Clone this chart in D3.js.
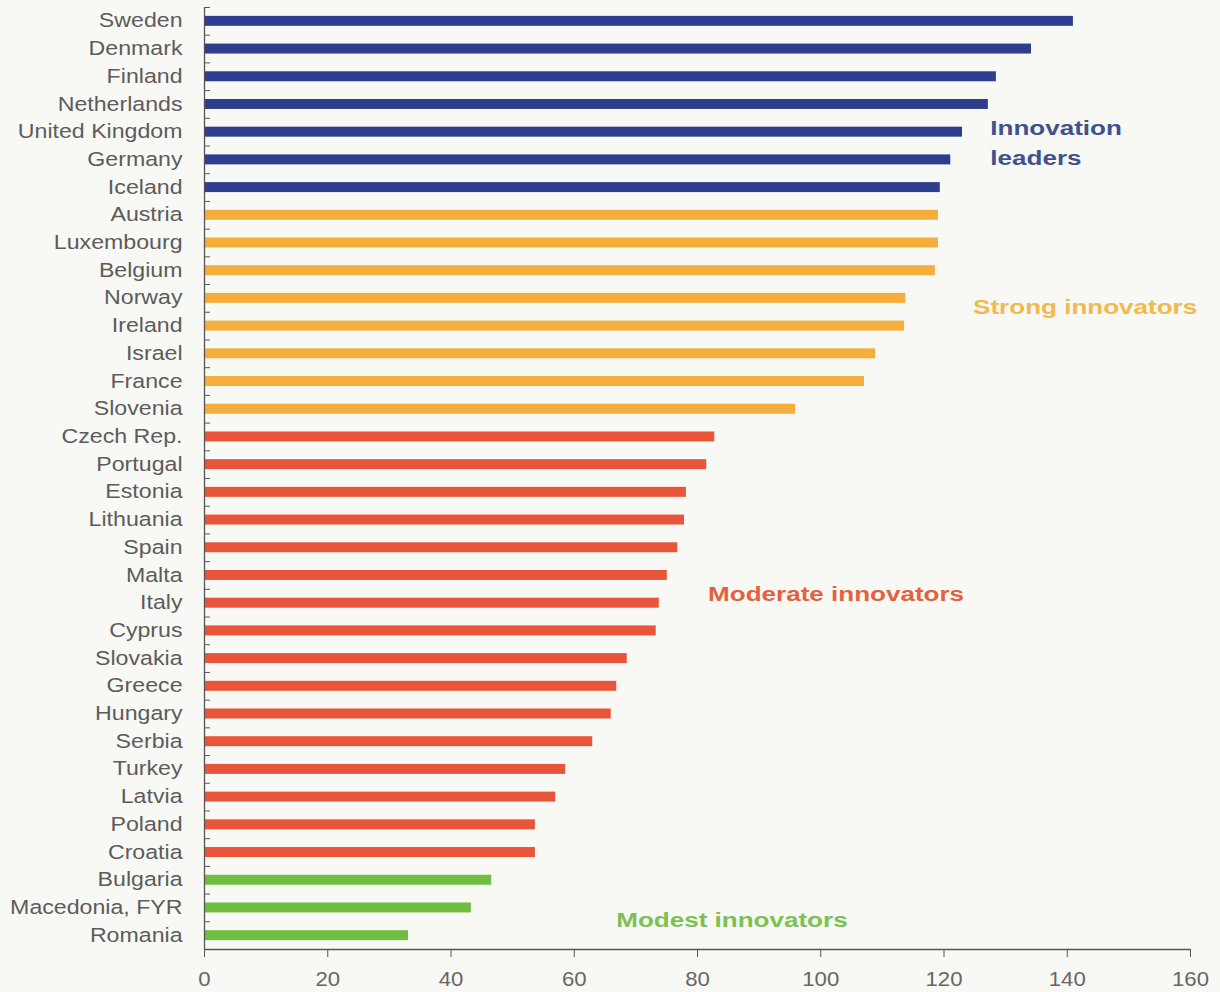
<!DOCTYPE html>
<html>
<head>
<meta charset="utf-8">
<script src="https://cdn.jsdelivr.net/npm/d3@7"></script>
<style>
  html, body { margin: 0; padding: 0; background: #f8f8f5; }
  svg { display: block; }
</style>
</head>
<body>
<svg id="chart" width="1220" height="992"></svg>
<script>
const countries = [
  "Sweden", "Denmark", "Finland", "Netherlands", "United Kingdom", "Germany", "Iceland",
  "Austria", "Luxembourg", "Belgium", "Norway", "Ireland", "Israel", "France", "Slovenia",
  "Czech Rep.", "Portugal", "Estonia", "Lithuania", "Spain", "Malta", "Italy", "Cyprus",
  "Slovakia", "Greece", "Hungary", "Serbia", "Turkey", "Latvia", "Poland", "Croatia",
  "Bulgaria", "Macedonia, FYR", "Romania"
];
const scores = [
  141.0, 134.2, 128.5, 127.2, 123.0, 121.1, 119.4,
  119.1, 119.1, 118.6, 113.8, 113.6, 108.9, 107.1, 95.9,
  82.8, 81.5, 78.2, 77.9, 76.8, 75.1, 73.8, 73.3,
  68.6, 66.9, 66.0, 63.0, 58.6, 57.0, 53.7, 53.7,
  46.6, 43.3, 33.1
];
const groupOf = [
  0, 0, 0, 0, 0, 0, 0,
  1, 1, 1, 1, 1, 1, 1, 1,
  2, 2, 2, 2, 2, 2, 2, 2,
  2, 2, 2, 2, 2, 2, 2, 2,
  3, 3, 3
];
const groupNames = [["Innovation", "leaders"], ["Strong innovators"], ["Moderate innovators"], ["Modest innovators"]];
const barColors = ["#2f3d8e", "#f5ad3b", "#e9553a", "#6fbe42"];
const labelColors = ["#41508f", "#f2b94f", "#e2623e", "#7dc153"];
// where each group name sits: value on x axis, country row it hangs from
const labelAt = [
  { x: 127.6, row: "United Kingdom", dy: 3 },
  { x: 124.8, row: "Ireland", dy: -12 },
  { x: 81.8, row: "Italy", dy: -2 },
  { x: 66.9, row: "Macedonia, FYR", dy: 20 }
];
const xTicks = [0, 20, 40, 60, 80, 100, 120, 140, 160];

const textColor = "#5c5c5c";
const axisColor = "#555";

const svg = d3.select("#chart");
const plotLeft = 204, plotRight = 1190, plotTop = 7, plotBottom = 949;

const x = d3.scaleLinear().domain([0, 160]).range([plotLeft, plotRight]);
const y = d3.scaleBand()
  .domain(countries)
  .range([plotTop, plotBottom])
  .paddingInner(0.64)
  .paddingOuter(0.32);

// bars
svg.append("g")
  .selectAll("rect")
  .data(countries)
  .enter()
  .append("rect")
  .attr("x", x(0))
  .attr("y", d => y(d))
  .attr("width", (d, i) => x(scores[i]) - x(0))
  .attr("height", y.bandwidth())
  .attr("fill", (d, i) => barColors[groupOf[i]]);

// y axis: line with small ticks between rows, pointing in
const yEdge = d3.scaleLinear().domain([0, countries.length]).range([plotTop, plotBottom]);
const yAxisG = svg.append("g")
  .attr("transform", `translate(${plotLeft},0)`)
  .call(d3.axisRight(yEdge).tickValues(d3.range(countries.length + 1)).tickSize(6).tickSizeOuter(0).tickFormat(""));
yAxisG.select(".domain").attr("stroke", axisColor).attr("stroke-width", 1.3);
yAxisG.selectAll(".tick line").attr("stroke", axisColor);

// country labels
const yLabels = svg.append("g")
  .attr("transform", `translate(${plotLeft},0)`)
  .call(d3.axisLeft(y).tickSize(0).tickPadding(19));
yLabels.select(".domain").remove();
yLabels.selectAll("text")
  .style("font-family", "Liberation Sans, Arial, sans-serif")
  .style("font-size", "20.5px")
  .attr("fill", textColor)
  .attr("transform", "scale(1.13,1)");

// x axis
const xAxisG = svg.append("g")
  .attr("transform", `translate(0,${plotBottom})`)
  .call(d3.axisBottom(x).tickValues(xTicks).tickSize(8).tickSizeOuter(0).tickPadding(14));
xAxisG.select(".domain").attr("stroke", axisColor).attr("stroke-width", 1.3);
xAxisG.selectAll(".tick line").attr("stroke", axisColor);
xAxisG.selectAll("text")
  .style("font-family", "Liberation Sans, Arial, sans-serif")
  .style("font-size", "20.5px")
  .attr("fill", "#666")
  .attr("transform", "scale(1.08,1)");

// group names
labelAt.forEach((p, g) => {
  const t = svg.append("text")
    .attr("transform", `translate(${x(p.x)},${y(p.row) + y.bandwidth() / 2 + p.dy}) scale(1.24,1)`)
    .style("font-family", "Liberation Sans, Arial, sans-serif")
    .style("font-size", "21px")
    .style("font-weight", "bold")
    .attr("fill", labelColors[g]);
  groupNames[g].forEach((line, k) => {
    t.append("tspan").attr("x", 0).attr("dy", k === 0 ? 0 : 30).text(line);
  });
});
</script>
</body>
</html>
